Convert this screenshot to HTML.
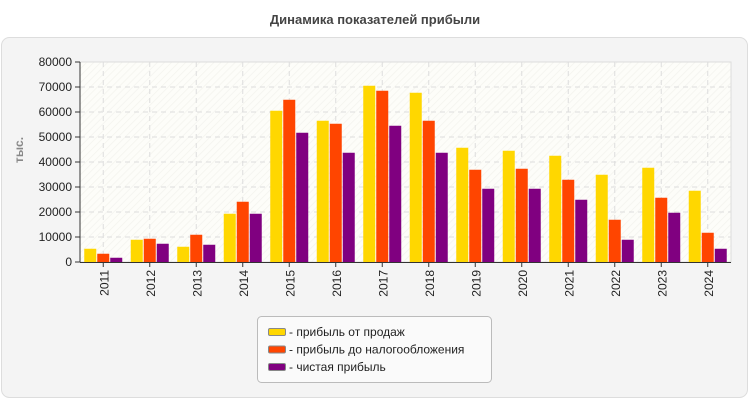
<!DOCTYPE html>
<html><head><meta charset="utf-8"><style>
body{margin:0;width:750px;height:400px;background:#fff;font-family:"Liberation Sans",sans-serif;overflow:hidden}
svg text{font-family:"Liberation Sans",sans-serif}
</style></head><body>
<svg id="c" width="750" height="400" xmlns="http://www.w3.org/2000/svg">
<defs>
<pattern id="hatch" width="5" height="5" patternUnits="userSpaceOnUse" patternTransform="rotate(45)">
<rect width="5" height="5" fill="#fdfdf9"/><line x1="0" y1="0" x2="0" y2="5" stroke="#f3f3ee" stroke-width="1.5"/>
</pattern>
</defs>
<text x="375" y="24" text-anchor="middle" font-size="13" font-weight="bold" fill="#444">Динамика показателей прибыли</text>
<rect x="1.5" y="37.5" width="746" height="360" rx="8" fill="#f4f4f4" stroke="#ddd"/>
<rect x="80" y="62" width="651" height="200" fill="url(#hatch)" stroke="#ddd"/>
<g id="grid"></g><g id="bars"></g><g id="axes"></g>
<text transform="translate(23,150) rotate(-90)" text-anchor="middle" font-size="12" font-weight="bold" fill="#888">тыс.</text>
<g>
<rect x="257.5" y="316.5" width="234" height="66" rx="4" fill="#fafafa" stroke="#bbb"/>
<g id="legend"></g>
</g>
</svg>
<script>
const categories=["2011","2012","2013","2014","2015","2016","2017","2018","2019","2020","2021","2022","2023","2024"];
const salesProfit=[5300,8900,6100,19300,60500,56500,70500,67700,45700,44500,42500,34900,37700,28500];
const pretaxProfit=[3300,9300,10900,24100,64900,55300,68500,56500,36900,37300,32900,16900,25700,11700];
const netProfit=[1700,7300,6900,19300,51700,43700,54500,43700,29300,29300,24900,8900,19700,5300];
const yTicks=[0,10000,20000,30000,40000,50000,60000,70000,80000];
const seriesNames=["прибыль от продаж","прибыль до налогообложения","чистая прибыль"];
const colors=["#ffd700","#ff4500","#800080"];
const NS="http://www.w3.org/2000/svg";
const X0=80,X1=731,Y0=262,Y1=62,YMAX=80000;
const bw=(X1-X0)/categories.length;
const y=v=>Y0-(v/YMAX)*(Y0-Y1);
const xc=i=>X0+bw*(i+0.5);
function mk(t,a,p){const e=document.createElementNS(NS,t);for(const k in a)e.setAttribute(k,a[k]);p.appendChild(e);return e;}
const grid=document.getElementById('grid'),bars=document.getElementById('bars'),axes=document.getElementById('axes');
yTicks.forEach(v=>{
 if(v>0&&v<YMAX){const l=mk('line',{x1:X0,x2:X1,y1:y(v),y2:y(v),stroke:'#ddd','stroke-dasharray':'5,4'},grid);
 
 }
 mk('line',{x1:X0-5,x2:X0,y1:y(v),y2:y(v),stroke:'#333'},axes);
 const t=mk('text',{x:X0-8,y:y(v)+4,'text-anchor':'end','font-size':'12',fill:'#222'},axes);t.textContent=v;
 
 
});
categories.forEach((c,i)=>{
 const l=mk('line',{x1:xc(i),x2:xc(i),y1:Y1,y2:Y0,stroke:'#ddd','stroke-dasharray':'5,4'},grid);
 
 
 mk('line',{x1:xc(i),x2:xc(i),y1:Y0,y2:Y0+5,stroke:'#333'},axes);
 const t=mk('text',{transform:`translate(${xc(i)+5},${Y0+8}) rotate(-90)`,'text-anchor':'end','font-size':'12',fill:'#222'},axes);t.textContent=c;
 
 
 [salesProfit,pretaxProfit,netProfit].forEach((s,k)=>{
  const r=mk('rect',{x:xc(i)-19+k*13,y:y(s[i]),width:12,height:Y0-y(s[i]),fill:colors[k]},bars);
  
  
 });
});
mk('line',{x1:X0,x2:X0,y1:Y1,y2:Y0,stroke:'#333'},axes);
mk('line',{x1:X0,x2:X1,y1:Y0+.5,y2:Y0+.5,stroke:'#333'},axes);
const lg=document.getElementById('legend');
seriesNames.forEach((n,k)=>{
 const yy=329+k*17.5;
 const r=mk('rect',{x:268.5,y:yy-0.5,width:17,height:7,rx:1.5,fill:colors[k],stroke:'#888'},lg);
 
 
 const t=mk('text',{x:289,y:yy+7,'font-size':'12',fill:'#222'},lg);t.textContent='- '+n;
 
 
});
</script>
</body></html>
